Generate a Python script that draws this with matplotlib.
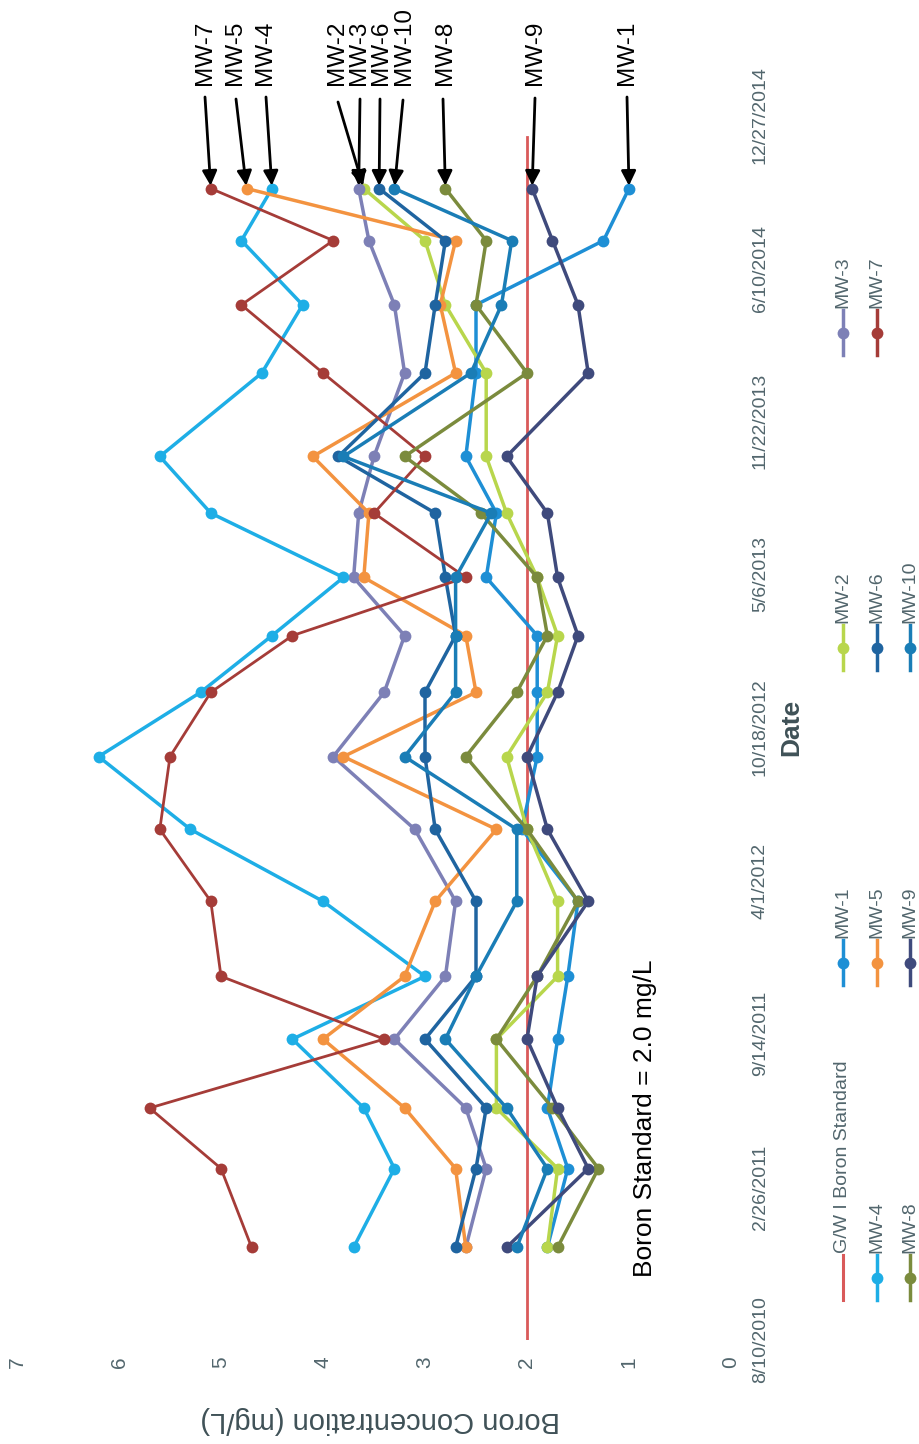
import matplotlib
matplotlib.use("Agg")
import matplotlib.pyplot as plt
import pandas as pd
from matplotlib.lines import Line2D

plt.rcParams["font.family"] = ["Liberation Sans", "DejaVu Sans"]

# ---------------------------------------------------------------- data
sample_dates = pd.to_datetime([
    "2010-12-09", "2011-03-22", "2011-06-09", "2011-09-07", "2011-11-28",
    "2012-03-05", "2012-06-07", "2012-09-10", "2012-12-03", "2013-02-15",
    "2013-05-02", "2013-07-25", "2013-10-07", "2014-01-24", "2014-04-23",
    "2014-07-16", "2014-09-22",
])

mw1 = [1.8, 1.6, 1.8, 1.7, 1.6, 1.5, 2.05, 1.9, 1.9, 1.9, 2.4, 2.3, 2.6, 2.5, 2.5, 1.25, 1.0]
mw2 = [1.8, 1.7, 2.3, 2.3, 1.7, 1.7, 2.0, 2.2, 1.8, 1.7, 1.9, 2.2, 2.4, 2.4, 2.8, 3.0, 3.6]
mw3 = [2.6, 2.4, 2.6, 3.3, 2.8, 2.7, 3.1, 3.9, 3.4, 3.2, 3.7, 3.65, 3.5, 3.2, 3.3, 3.55, 3.65]
mw4 = [3.7, 3.3, 3.6, 4.3, 3.0, 4.0, 5.3, 6.2, 5.2, 4.5, 3.8, 5.1, 5.6, 4.6, 4.2, 4.8, 4.5]
mw5 = [2.6, 2.7, 3.2, 4.0, 3.2, 2.9, 2.3, 3.8, 2.5, 2.6, 3.6, 3.55, 4.1, 2.7, 2.85, 2.7, 4.75]
mw6 = [2.7, 2.5, 2.4, 3.0, 2.5, 2.5, 2.9, 3.0, 3.0, 2.7, 2.8, 2.9, 3.85, 3.0, 2.9, 2.8, 3.45]
mw7 = [4.7, 5.0, 5.7, 3.4, 5.0, 5.1, 5.6, 5.5, 5.1, 4.3, 2.6, 3.5, 3.0, 4.0, 4.8, 3.9, 5.1]
mw8 = [1.7, 1.3, 1.75, 2.3, 1.9, 1.5, 2.0, 2.6, 2.1, 1.8, 1.9, 2.45, 3.2, 2.0, 2.5, 2.4, 2.8]
mw9 = [2.2, 1.4, 1.7, 2.0, 1.9, 1.4, 1.8, 2.0, 1.7, 1.5, 1.7, 1.8, 2.2, 1.4, 1.5, 1.75, 1.95]
mw10 = [2.1, 1.8, 2.2, 2.8, 2.5, 2.1, 2.1, 3.2, 2.7, 2.7, 2.7, 2.35, 3.8, 2.55, 2.25, 2.15, 3.3]

standard_dates = pd.to_datetime(["2010-08-10", "2014-11-28"])
standard_values = [2.0, 2.0]

date_tick_labels = ["8/10/2010", "2/26/2011", "9/14/2011", "4/1/2012", "10/18/2012",
                    "5/6/2013", "11/22/2013", "6/10/2014", "12/27/2014"]
value_ticks = [0, 1, 2, 3, 4, 5, 6, 7]

well_names = ["MW-1", "MW-2", "MW-3", "MW-4", "MW-5", "MW-6", "MW-7", "MW-8", "MW-9", "MW-10"]
well_values = [mw1, mw2, mw3, mw4, mw5, mw6, mw7, mw8, mw9, mw10]
well_colors = ["#1e8fd5", "#b8d64c", "#7d80b6", "#1eaee6", "#f39340",
               "#1f64a0", "#a53c38", "#7b8b3d", "#3f4a7c", "#1a7db6"]
standard_color = "#d95a5a"
text_gray = "#52666d"
title_gray = "#3f5157"

# ---------------------------------------------------------------- figure
W, H = 920, 1444
fig = plt.figure(figsize=(W / 100, H / 100), dpi=100)
fig.patch.set_facecolor("white")


def px(x, y):
    """Image pixel position (origin top-left) -> figure fraction."""
    return x / W, 1 - y / H


# the page is turned: concentration runs right-to-left, time bottom-to-top
ax_l, ax_r, ax_t, ax_b = 17, 731, 115, 1340
ax = fig.add_axes([ax_l / W, 1 - ax_b / H, (ax_r - ax_l) / W, (ax_b - ax_t) / H])
ax.set_facecolor("white")
for s in ax.spines.values():
    s.set_visible(False)

date_ticks = pd.to_datetime(date_tick_labels, format="%m/%d/%Y")
ax.set_xlim(7, 0)
ax.set_ylim(date_ticks[0], date_ticks[-1])

ax.plot(standard_values, standard_dates, color=standard_color, lw=2.0, zorder=2)

lines = {}
for name, vals, col in zip(well_names, well_values, well_colors):
    lw = 2.0 if name == "MW-7" else 2.5
    ax.plot(vals, sample_dates, color=col, lw=lw, marker="o", ms=8.5,
            markeredgewidth=0, zorder=3, solid_capstyle="round")
    lines[name] = (vals, col)

# ticks
ax.set_xticks(value_ticks)
ax.set_xticklabels([str(v) for v in value_ticks])
ax.set_yticks(date_ticks)
ax.set_yticklabels(date_tick_labels)
ax.tick_params(axis="x", length=0, pad=12, labelsize=15, labelcolor=text_gray,
               labelrotation=90)
ax.tick_params(axis="y", length=0, pad=15, labelsize=14, labelcolor=text_gray,
               labelrotation=90, left=False, right=True,
               labelleft=False, labelright=True)
for lbl in ax.get_yticklabels():
    lbl.set_va("center")

# axis titles
ax.set_xlabel("Boron Concentration (mg/L)", rotation=180, fontsize=21, color=title_gray)
ax.xaxis.set_label_coords((380 - ax_l) / (ax_r - ax_l), (ax_b - 1420) / (ax_b - ax_t))
ax.xaxis.label.set_va("center")
ax.yaxis.set_label_position("right")
ax.set_ylabel("Date", rotation=90, fontsize=19, fontweight="bold", color=title_gray)
ax.yaxis.set_label_coords((791 - ax_l) / (ax_r - ax_l), 0.5)
ax.yaxis.label.set_va("center")
ax.yaxis.label.set_ha("center")

# standard note
fig.text(*px(645, 1118), "Boron Standard = 2.0 mg/L", rotation=90, ha="center",
         va="center", fontsize=19, color="black")

# well call-outs on the last sampling round
callouts = [
    ("MW-7", 205, 97, 205), ("MW-5", 236, 99, 235), ("MW-4", 266, 97, 265),
    ("MW-2", 338, 102, 337), ("MW-3", 360, 99, 359), ("MW-6", 380, 99, 381),
    ("MW-10", 403, 100, 404), ("MW-8", 443, 99, 445), ("MW-9", 535, 98, 535),
    ("MW-1", 627, 97, 627),
]
last_date = sample_dates[-1]
for name, tx, ty, lx in callouts:
    vals, _ = lines[name]
    ax.annotate("", xy=(vals[-1], last_date), xycoords="data",
                xytext=px(tx, ty), textcoords="figure fraction",
                arrowprops=dict(arrowstyle="-|>", lw=2.0, color="black",
                                mutation_scale=22, shrinkA=0, shrinkB=2),
                annotation_clip=False, zorder=5)
    fig.text(*px(lx, 85), name, rotation=90, ha="center", va="bottom",
             fontsize=17.5, color="black")

# legend (turned with the page)
rows_x = [843, 877, 910]
cols_y = [(1255, 1300), (940, 985), (625, 670), (310, 355)]
legend_items = [("G/W I Boron Standard", standard_color, False)] + \
    [(n, c, True) for n, c in zip(well_names, well_colors)]
for i, (name, col, has_marker) in enumerate(legend_items):
    r, c = divmod(i, 4)
    x = rows_x[r]
    y0, y1 = cols_y[c]
    fx0, fy0 = px(x, y0)
    _, fy1 = px(x, y1)
    fig.add_artist(Line2D([fx0, fx0], [fy0, fy1], transform=fig.transFigure,
                          color=col, lw=2.5 if has_marker else 2.2))
    if has_marker:
        fig.add_artist(Line2D([fx0], [(fy0 + fy1) / 2], transform=fig.transFigure,
                              color=col, marker="o", ms=8.5, markeredgewidth=0))
    fig.text(*px(x, y0 - 2), name, rotation=90, ha="center", va="bottom",
             fontsize=14, color=text_gray)

fig.savefig("out.png", dpi=100, facecolor="white")
